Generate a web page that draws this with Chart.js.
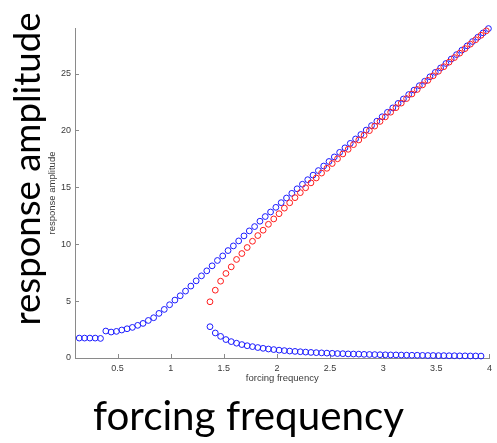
<!DOCTYPE html>
<html>
<head>
<meta charset="utf-8">
<script src="https://cdn.jsdelivr.net/npm/chart.js@4.4.1/dist/chart.umd.min.js"></script>
<style>
  html, body { margin:0; padding:0; background:#fff; width:497px; height:443px; overflow:hidden; }
  #wrap { position:absolute; left:0; top:0; width:497px; height:443px; }
  canvas { position:absolute; left:0; top:0; }
  .big { position:absolute; font-family:Lato, "Open Sans", sans-serif; color:#000; white-space:nowrap; line-height:40px; height:40px; text-align:center; }
  #xbig { left:0; width:497px; top:395px; }
  #ybig { left:-134.5px; top:148.5px; width:320px; transform:rotate(-90deg); transform-origin:50% 50%; }
</style>
</head>
<body>
<div id="wrap">
  <canvas id="c" width="497" height="443"></canvas>
  <div class="big" id="ybig">response amplitude</div>
  <div class="big" id="xbig">forcing frequency</div>
</div>
<script>
// ---- data ----
const xTicks = [0.5, 1, 1.5, 2, 2.5, 3, 3.5, 4];
const yTicks = [0, 5, 10, 15, 20, 25];

// upper (resonant) branch, blue
const freqUpper = [0.14,0.19,0.24,0.29,0.34,0.39,0.44,0.49,0.54,0.59,0.64,0.69,0.74,0.79,0.84,0.89,0.94,0.99,1.04,1.09,
  1.14,1.19,1.24,1.29,1.34,1.39,1.44,1.49,1.54,1.59,1.64,1.69,1.74,1.79,1.84,1.89,1.94,1.99,2.04,2.09,
  2.14,2.19,2.24,2.29,2.34,2.39,2.44,2.49,2.54,2.59,2.64,2.69,2.74,2.79,2.84,2.89,2.94,2.99,3.04,3.09,
  3.14,3.19,3.24,3.29,3.34,3.39,3.44,3.49,3.54,3.59,3.64,3.69,3.74,3.79,3.84,3.89,3.94,3.99];
const ampUpper = [1.75,1.75,1.75,1.75,1.72,2.37,2.28,2.34,2.46,2.57,2.69,2.87,3.04,3.3,3.54,3.92,4.27,4.68,5.09,5.47,
  5.88,6.32,6.78,7.22,7.66,8.1,8.57,8.97,9.44,9.85,10.29,10.73,11.17,11.55,12.02,12.43,12.83,13.24,13.65,14.06,
  14.47,14.87,15.27,15.67,16.07,16.47,16.87,17.27,17.67,18.07,18.47,18.86,19.25,19.64,20.03,20.42,20.81,21.2,21.59,21.98,
  22.37,22.76,23.15,23.54,23.93,24.32,24.71,25.1,25.49,25.88,26.27,26.66,27.05,27.43,27.81,28.19,28.57,28.95];

// middle branch, red
const freqMiddle = [1.37,1.42,1.47,1.52,1.57,1.62,1.67,1.72,1.77,1.82,1.87,1.92,1.97,2.02,2.07,2.12,2.17,2.22,2.27,2.32,
  2.37,2.42,2.47,2.52,2.57,2.62,2.67,2.72,2.77,2.82,2.87,2.92,2.97,3.02,3.07,3.12,3.17,3.22,3.27,3.32,
  3.37,3.42,3.47,3.52,3.57,3.62,3.67,3.72,3.77,3.82,3.87,3.92,3.97];
const ampMiddle = [4.94,5.96,6.75,7.43,8.01,8.66,9.18,9.71,10.26,10.76,11.23,11.75,12.22,12.68,13.17,13.64,14.09,14.53,14.96,15.39,
  15.82,16.25,16.67,17.09,17.51,17.93,18.34,18.75,19.16,19.57,19.98,20.38,20.79,21.19,21.6,22.0,22.4,22.8,23.2,23.6,
  24.0,24.4,24.8,25.2,25.6,26.0,26.4,26.79,27.19,27.58,27.97,28.36,28.75];

// lower branch, blue
const freqLower = [1.37,1.42,1.47,1.52,1.57,1.62,1.67,1.72,1.77,1.82,1.87,1.92,1.97,2.02,2.07,2.12,2.17,2.22,2.27,2.32,
  2.37,2.42,2.47,2.52,2.57,2.62,2.67,2.72,2.77,2.82,2.87,2.92,2.97,3.02,3.07,3.12,3.17,3.22,3.27,3.32,
  3.37,3.42,3.47,3.52,3.57,3.62,3.67,3.72,3.77,3.82,3.87,3.92];
const ampLower = [2.75,2.2,1.9,1.62,1.44,1.3,1.18,1.08,1.0,0.92,0.85,0.79,0.74,0.69,0.65,0.61,0.58,0.55,0.52,0.49,
  0.47,0.45,0.43,0.41,0.39,0.38,0.36,0.35,0.34,0.32,0.31,0.30,0.29,0.28,0.27,0.27,0.26,0.25,0.24,0.24,
  0.23,0.22,0.22,0.21,0.21,0.2,0.2,0.19,0.19,0.18,0.18,0.17];

const toPts = (xs, ys) => xs.map((x, i) => ({x: x, y: ys[i]}));

// fit big labels to the reference widths
(function fitBig(){
  const cv = document.createElement('canvas').getContext('2d');
  cv.font = '100px Lato';
  const wx = cv.measureText('forcing frequency').width;
  const wy = cv.measureText('response amplitude').width;
  document.getElementById('xbig').style.fontSize = (100 * 311 / wx).toFixed(2) + 'px';
  document.getElementById('ybig').style.fontSize = (100 * 313 / wy).toFixed(2) + 'px';
})();

const axisGrey = '#8a8a8a';
const inwardTicks = {
  id: 'inwardTicks',
  beforeDatasetsDraw(chart) {
    const {ctx, chartArea: a, scales: {x, y}} = chart;
    ctx.save();
    ctx.strokeStyle = axisGrey;
    ctx.lineWidth = 1;
    ctx.beginPath();
    x.ticks.forEach(t => {
      const p = Math.round(x.getPixelForValue(t.value)) + 0.5;
      ctx.moveTo(p, a.bottom); ctx.lineTo(p, a.bottom - 4);
    });
    y.ticks.forEach(t => {
      const p = Math.round(y.getPixelForValue(t.value)) + 0.5;
      ctx.moveTo(a.left, p); ctx.lineTo(a.left + 4, p);
    });
    ctx.stroke();
    ctx.restore();
  }
};

const tickFont = {family: '"Liberation Sans", Arial, sans-serif', size: 9};
const titleFont = {family: '"Liberation Sans", Arial, sans-serif', size: 9.5};

new Chart(document.getElementById('c'), {
  type: 'scatter',
  data: {
    datasets: [
      { label: 'middle', data: toPts(freqMiddle, ampMiddle), borderColor: '#ff1a1a', backgroundColor: 'rgba(0,0,0,0)',
        pointRadius: 2.9, pointBorderWidth: 1, pointHoverRadius: 2.9, showLine: false, clip: false },
      { label: 'upper', data: toPts(freqUpper, ampUpper), borderColor: '#1a1aff', backgroundColor: 'rgba(0,0,0,0)',
        pointRadius: 2.9, pointBorderWidth: 1, pointHoverRadius: 2.9, showLine: false, clip: false },
      { label: 'lower', data: toPts(freqLower, ampLower), borderColor: '#1a1aff', backgroundColor: 'rgba(0,0,0,0)',
        pointRadius: 2.9, pointBorderWidth: 1, pointHoverRadius: 2.9, showLine: false, clip: false }
    ]
  },
  options: {
    responsive: false,
    animation: false,
    events: [],
    layout: { padding: { left: 0, right: 3, top: 28, bottom: 0 } },
    plugins: { legend: { display: false }, tooltip: { enabled: false } },
    scales: {
      x: {
        type: 'linear', min: 0.1, max: 4,
        afterBuildTicks: s => { s.ticks = xTicks.map(v => ({value: v})); },
        afterFit: s => { s.height = 85; },
        grid: { display: true, drawOnChartArea: false, drawTicks: false },
        border: { display: true, color: axisGrey, width: 1 },
        ticks: { color: '#3a3a3a', font: tickFont, padding: 5, maxRotation: 0, autoSkip: false, callback: v => String(v) },
        title: { display: true, text: 'forcing frequency', color: '#3a3a3a', font: titleFont, padding: { top: 0, bottom: 58.5 } }
      },
      y: {
        type: 'linear', min: 0, max: 29,
        afterBuildTicks: s => { s.ticks = yTicks.map(v => ({value: v})); },
        afterFit: s => { s.width = 75; },
        grid: { display: true, drawOnChartArea: false, drawTicks: false },
        border: { display: true, color: axisGrey, width: 1 },
        ticks: { color: '#3a3a3a', font: tickFont, padding: 4, autoSkip: false, callback: v => String(v) },
        title: { display: true, text: 'response amplitude', color: '#3a3a3a', font: titleFont, padding: { top: 46.5, bottom: 0 } }
      }
    }
  },
  plugins: [inwardTicks]
});
</script>
</body>
</html>
